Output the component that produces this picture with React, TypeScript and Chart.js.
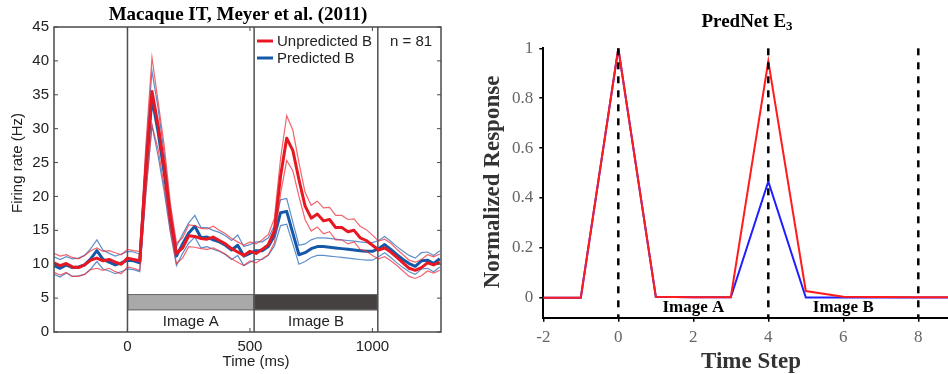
import React, { useEffect, useRef } from "react";
import { Chart, registerables } from "chart.js";

Chart.register(...registerables);

// ---------------- Left panel data (Macaque IT) ----------------
const timesMs = [
  -300, -275, -250, -225, -200, -175, -150, -125, -100, -75, -50, -25,
  0, 25, 50, 75, 100, 125, 150, 175, 200, 225, 250, 275,
  300, 325, 350, 375, 400, 425, 450, 475, 500, 525, 550, 575,
  600, 625, 650, 675, 700, 725, 750, 775, 800, 825, 850, 875,
  900, 925, 950, 975, 1000, 1025, 1050, 1075, 1100, 1125, 1150, 1175,
  1200, 1225, 1250, 1275,
];
const unpredictedMean = [
  10.2, 9.8, 10.1, 9.6, 9.5, 9.9, 10.6, 10.9, 10.5, 10.7, 10.3, 10.0,
  10.9, 10.7, 10.5, 24.0, 35.5, 30.5, 24.5, 17.0, 11.6, 12.4, 14.2, 14.1,
  13.8, 13.7, 14.0, 13.5, 13.0, 12.3, 11.8, 11.3, 11.9, 11.6, 12.2, 12.9,
  15.0, 23.0, 28.6, 26.8, 22.5, 18.6, 16.8, 17.4, 16.4, 16.6, 15.4, 15.4,
  14.8, 15.0, 13.9, 13.5, 12.8, 12.1, 12.4, 11.8, 11.0, 10.2, 9.4, 9.1,
  9.5, 10.2, 9.9, 10.3,
];
const unpredictedSem = [
  1.4, 1.4, 1.3, 1.4, 1.3, 1.4, 1.4, 1.5, 1.4, 1.3, 1.4, 1.4,
  1.3, 1.3, 1.4, 3.5, 5.0, 3.5, 3.0, 2.0, 1.5, 1.5, 1.6, 1.6,
  1.5, 1.5, 1.6, 1.5, 1.5, 1.5, 1.5, 1.5, 1.4, 1.4, 1.4, 1.5,
  1.8, 2.6, 3.3, 3.0, 2.5, 2.0, 1.9, 1.9, 1.9, 1.8, 1.8, 1.8,
  1.8, 1.7, 1.7, 1.6, 1.5, 1.3, 1.3, 1.3, 1.2, 1.2, 1.2, 1.2,
  1.2, 1.2, 1.2, 1.2,
];
const predictedMean = [
  9.8, 9.4, 9.9, 9.5, 9.6, 9.9, 10.8, 12.0, 10.7, 10.3, 9.9, 10.2,
  10.6, 10.5, 10.2, 23.5, 34.5, 29.5, 23.5, 16.5, 11.2, 13.0, 14.6, 15.6,
  13.9, 14.0, 13.6, 13.3, 12.8, 12.1, 12.8, 11.2, 11.6, 12.0, 12.0, 12.6,
  14.2, 17.6, 17.8, 14.6, 11.4, 11.7, 12.3, 12.6, 12.6, 12.5, 12.4, 12.3,
  12.2, 12.1, 12.0, 11.9, 11.9, 12.3, 12.9, 12.2, 11.4, 10.7, 10.1, 9.7,
  10.5, 10.6, 10.1, 10.8,
];
const predictedSem = [
  1.3, 1.3, 1.2, 1.3, 1.3, 1.4, 1.5, 1.6, 1.4, 1.3, 1.3, 1.3,
  1.3, 1.3, 1.3, 3.0, 4.0, 3.5, 2.8, 1.8, 1.4, 1.4, 1.5, 1.6,
  1.5, 1.4, 1.4, 1.4, 1.4, 1.4, 1.5, 1.4, 1.3, 1.3, 1.3, 1.3,
  1.5, 1.9, 1.9, 1.6, 1.4, 1.3, 1.3, 1.3, 1.3, 1.3, 1.3, 1.3,
  1.3, 1.3, 1.3, 1.3, 1.3, 1.2, 1.2, 1.2, 1.2, 1.2, 1.2, 1.2,
  1.2, 1.2, 1.2, 1.2,
];
const leftXTicks = [0, 500, 1000];
const leftYTicks = [0, 5, 10, 15, 20, 25, 30, 35, 40, 45];
const eventLinesMs = [0, 517, 1022];
const stimulusNames = ["Image A", "Image B"];
const stimulusStart = [0, 517];
const stimulusEnd = [517, 1022];
const stimulusRange = [3.2, 5.6];
const neuronCount = 81;

// ---------------- Right panel data (PredNet E3) ----------------
const timeSteps = [-2, -1, 0, 1, 2, 3, 4, 5, 6, 7, 8, 9];
const unpredictedResp = [0, 0, 1.0, 0.004, 0.002, 0.002, 0.948, 0.027, 0.004, 0.003, 0.002, 0.002];
const predictedResp = [0, 0, 1.0, 0.004, 0.002, 0.002, 0.466, 0.001, 0.001, 0.001, 0.001, 0.001];
const rightXTicks = [-2, 0, 2, 4, 6, 8];
const rightYTicks = [0, 0.2, 0.4, 0.6, 0.8, 1];
const onsetSteps = [0, 4, 8];
const imageLabelSteps = [2, 6];

const SANS = '"Liberation Sans", Arial, Helvetica, sans-serif';
const SERIF = '"Liberation Serif", "Times New Roman", serif';

const RED = "rgb(232, 24, 34)";
const RED_BAND = "rgba(236, 50, 60, 0.75)";
const BLUE = "rgb(22, 88, 168)";
const BLUE_BAND = "rgba(40, 105, 185, 0.75)";

function pts(xs: number[], ys: number[]) {
  return xs.map((x, i) => ({ x, y: ys[i] }));
}

const leftDecor = {
  id: "leftDecor",
  beforeDatasetsDraw(chart: any) {
    const { ctx, chartArea: a, scales } = chart;
    const x = scales.x, y = scales.y;
    ctx.save();
    const yTop = y.getPixelForValue(stimulusRange[1]);
    const yBot = y.getPixelForValue(stimulusRange[0]);
    const fills = ["#a9a9a9", "#464141"];
    stimulusStart.forEach((s, i) => {
      const x0 = x.getPixelForValue(s);
      const x1 = x.getPixelForValue(stimulusEnd[i]);
      ctx.fillStyle = fills[i];
      ctx.fillRect(x0, yTop, x1 - x0, yBot - yTop);
      ctx.strokeStyle = "#6a6a6a";
      ctx.lineWidth = 1;
      ctx.strokeRect(x0 + 0.5, yTop + 0.5, x1 - x0 - 1, yBot - yTop - 1);
    });
    ctx.strokeStyle = "#505050";
    ctx.lineWidth = 1.5;
    eventLinesMs.forEach((t) => {
      const px = x.getPixelForValue(t);
      ctx.beginPath();
      ctx.moveTo(px, a.top);
      ctx.lineTo(px, a.bottom);
      ctx.stroke();
    });
    ctx.restore();
  },
  afterDraw(chart: any) {
    const { ctx, chartArea: a, scales } = chart;
    const x = scales.x, y = scales.y;
    ctx.save();
    // frame
    ctx.strokeStyle = "#4a4a4a";
    ctx.lineWidth = 1.5;
    ctx.strokeRect(a.left, a.top, a.right - a.left, a.bottom - a.top);
    // inward ticks
    ctx.lineWidth = 1;
    y.ticks.forEach((t: any) => {
      const py = y.getPixelForValue(t.value);
      ctx.beginPath();
      ctx.moveTo(a.left, py);
      ctx.lineTo(a.left + 4, py);
      ctx.moveTo(a.right, py);
      ctx.lineTo(a.right - 4, py);
      ctx.stroke();
    });
    x.ticks.forEach((t: any) => {
      const px = x.getPixelForValue(t.value);
      ctx.beginPath();
      ctx.moveTo(px, a.bottom);
      ctx.lineTo(px, a.bottom - 4);
      ctx.moveTo(px, a.top);
      ctx.lineTo(px, a.top + 4);
      ctx.stroke();
    });
    // stimulus labels
    ctx.fillStyle = "#222";
    ctx.font = `15px ${SANS}`;
    ctx.textAlign = "center";
    ctx.textBaseline = "middle";
    stimulusNames.forEach((n, i) => {
      const cx = x.getPixelForValue((stimulusStart[i] + stimulusEnd[i]) / 2);
      ctx.fillText(n, cx, y.getPixelForValue(1.5));
    });
    // legend
    ctx.lineWidth = 3;
    ctx.strokeStyle = RED;
    ctx.beginPath();
    ctx.moveTo(257, 41);
    ctx.lineTo(273, 41);
    ctx.stroke();
    ctx.strokeStyle = BLUE;
    ctx.beginPath();
    ctx.moveTo(257, 58);
    ctx.lineTo(273, 58);
    ctx.stroke();
    ctx.textAlign = "left";
    ctx.fillText("Unpredicted B", 277, 42);
    ctx.fillText("Predicted B", 277, 59);
    ctx.fillText(`n = ${neuronCount}`, 390, 42);
    // title
    ctx.fillStyle = "#000";
    ctx.font = `bold 19px ${SERIF}`;
    ctx.textAlign = "center";
    ctx.textBaseline = "alphabetic";
    ctx.fillText("Macaque IT, Meyer et al. (2011)", 238, 20);
    // axis titles
    ctx.fillStyle = "#222";
    ctx.font = `15px ${SANS}`;
    ctx.textBaseline = "middle";
    ctx.fillText("Time (ms)", 256, 362);
    ctx.translate(18, 163);
    ctx.rotate(-Math.PI / 2);
    ctx.fillText("Firing rate (Hz)", 0, 0);
    ctx.restore();
  },
};

const rightDecor = {
  id: "rightDecor",
  afterDatasetsDraw(chart: any) {
    const { ctx, chartArea: a, scales } = chart;
    const x = scales.x, y = scales.y;
    ctx.save();
    ctx.strokeStyle = "#000";
    ctx.lineWidth = 2.5;
    ctx.setLineDash([7, 7]);
    onsetSteps.forEach((s) => {
      const px = x.getPixelForValue(s);
      ctx.beginPath();
      ctx.moveTo(px, y.getPixelForValue(1));
      ctx.lineTo(px, a.bottom);
      ctx.stroke();
    });
    ctx.restore();
  },
  afterDraw(chart: any) {
    const { ctx, scales } = chart;
    const x = scales.x, y = scales.y;
    ctx.save();
    ctx.fillStyle = "#000";
    ctx.font = `bold 17px ${SERIF}`;
    ctx.textAlign = "center";
    ctx.textBaseline = "middle";
    stimulusNames.forEach((n, i) => {
      ctx.fillText(n, x.getPixelForValue(imageLabelSteps[i]), y.getPixelForValue(-0.039));
    });
    // title with subscript
    ctx.font = `bold 19px ${SERIF}`;
    ctx.textBaseline = "alphabetic";
    ctx.textAlign = "left";
    const main = "PredNet E";
    const w1 = ctx.measureText(main).width;
    ctx.font = `bold 13px ${SERIF}`;
    const w2 = ctx.measureText("3").width;
    const startX = 277 - (w1 + w2) / 2;
    ctx.font = `bold 19px ${SERIF}`;
    ctx.fillText(main, startX, 27);
    ctx.font = `bold 13px ${SERIF}`;
    ctx.fillText("3", startX + w1, 30);
    // axis titles
    ctx.fillStyle = "#333";
    ctx.font = `bold 23px ${SERIF}`;
    ctx.textAlign = "center";
    ctx.textBaseline = "middle";
    ctx.fillText("Time Step", 281, 362);
    ctx.translate(23, 182);
    ctx.rotate(-Math.PI / 2);
    ctx.fillText("Normalized Response", 0, 0);
    ctx.restore();
  },
};

function leftConfig(): any {
  const band = (color: string, data: any[]) => ({
    data,
    borderColor: color,
    borderWidth: 1.2,
    pointRadius: 0,
    tension: 0,
    fill: false,
  });
  return {
    type: "line",
    data: {
      datasets: [
        { data: pts(timesMs, unpredictedMean), borderColor: RED, borderWidth: 3, pointRadius: 0, tension: 0, fill: false, borderJoinStyle: "round" },
        band(RED_BAND, pts(timesMs, unpredictedMean.map((m, i) => m + unpredictedSem[i]))),
        band(RED_BAND, pts(timesMs, unpredictedMean.map((m, i) => m - unpredictedSem[i]))),
        { data: pts(timesMs, predictedMean), borderColor: BLUE, borderWidth: 3, pointRadius: 0, tension: 0, fill: false, borderJoinStyle: "round" },
        band(BLUE_BAND, pts(timesMs, predictedMean.map((m, i) => m + predictedSem[i]))),
        band(BLUE_BAND, pts(timesMs, predictedMean.map((m, i) => m - predictedSem[i]))),
      ],
    },
    options: {
      animation: false,
      responsive: false,
      devicePixelRatio: 1,
      layout: { padding: { left: 0, right: 21, top: 27, bottom: 0 } },
      plugins: { legend: { display: false }, tooltip: { enabled: false } },
      scales: {
        x: {
          type: "linear",
          min: -300,
          max: 1280,
          grid: { display: false, drawTicks: false },
          border: { display: false },
          afterBuildTicks: (s: any) => { s.ticks = leftXTicks.map((v) => ({ value: v })); },
          afterFit: (s: any) => { s.height = 42; },
          ticks: { color: "#222", font: { family: SANS, size: 15 }, padding: 6, callback: (v: any) => String(v), maxRotation: 0 },
        },
        y: {
          type: "linear",
          min: 0,
          max: 45,
          grid: { display: false, drawTicks: false },
          border: { display: false },
          afterBuildTicks: (s: any) => { s.ticks = leftYTicks.map((v) => ({ value: v })); },
          afterFit: (s: any) => { s.width = 54; },
          ticks: { color: "#222", font: { family: SANS, size: 15 }, padding: 5, callback: (v: any) => String(v) },
        },
      },
    },
    plugins: [leftDecor],
  };
}

function rightConfig(): any {
  return {
    type: "line",
    data: {
      datasets: [
        { data: pts(timeSteps, unpredictedResp), borderColor: "rgb(255, 28, 28)", borderWidth: 2, pointRadius: 0, tension: 0, fill: false },
        { data: pts(timeSteps, predictedResp), borderColor: "rgb(30, 30, 255)", borderWidth: 2, pointRadius: 0, tension: 0, fill: false },
      ],
    },
    options: {
      animation: false,
      responsive: false,
      devicePixelRatio: 1,
      layout: { padding: { left: 0, right: 14.2, top: 48.3, bottom: 0 } },
      plugins: { legend: { display: false }, tooltip: { enabled: false } },
      scales: {
        x: {
          type: "linear",
          min: -2,
          max: 9,
          grid: { display: true, drawOnChartArea: false, drawTicks: true, tickLength: 4, color: "#000", lineWidth: 1.5 },
          border: { display: true, color: "#000", width: 2 },
          afterBuildTicks: (s: any) => { s.ticks = rightXTicks.map((v) => ({ value: v })); },
          afterFit: (s: any) => { s.height = 56.3; },
          ticks: { color: "#666", font: { family: SERIF, size: 17 }, padding: 6, callback: (v: any) => String(v), maxRotation: 0 },
        },
        y: {
          type: "linear",
          min: -0.08,
          max: 1,
          grid: { display: true, drawOnChartArea: false, drawTicks: true, tickLength: 4, color: "#000", lineWidth: 1.5 },
          border: { display: true, color: "#000", width: 2 },
          afterBuildTicks: (s: any) => { s.ticks = rightYTicks.map((v) => ({ value: v })); },
          afterFit: (s: any) => { s.width = 73.3; },
          ticks: { color: "#666", font: { family: SERIF, size: 17 }, padding: 6, callback: (v: any) => String(v) },
        },
      },
    },
    plugins: [rightDecor],
  };
}

export default function App() {
  const leftRef = useRef<HTMLCanvasElement>(null);
  const rightRef = useRef<HTMLCanvasElement>(null);
  useEffect(() => {
    const c1 = new Chart(leftRef.current as HTMLCanvasElement, leftConfig());
    const c2 = new Chart(rightRef.current as HTMLCanvasElement, rightConfig());
    return () => {
      c1.destroy();
      c2.destroy();
    };
  }, []);
  return (
    <div style={{ position: "absolute", left: 0, top: 0, width: 948, height: 374, overflow: "hidden", background: "#fff" }}>
      <canvas ref={leftRef} width={462} height={374} style={{ position: "absolute", left: 0, top: 0, width: 462, height: 374 }} />
      <canvas ref={rightRef} width={500} height={374} style={{ position: "absolute", left: 470, top: 0, width: 500, height: 374 }} />
    </div>
  );
}
